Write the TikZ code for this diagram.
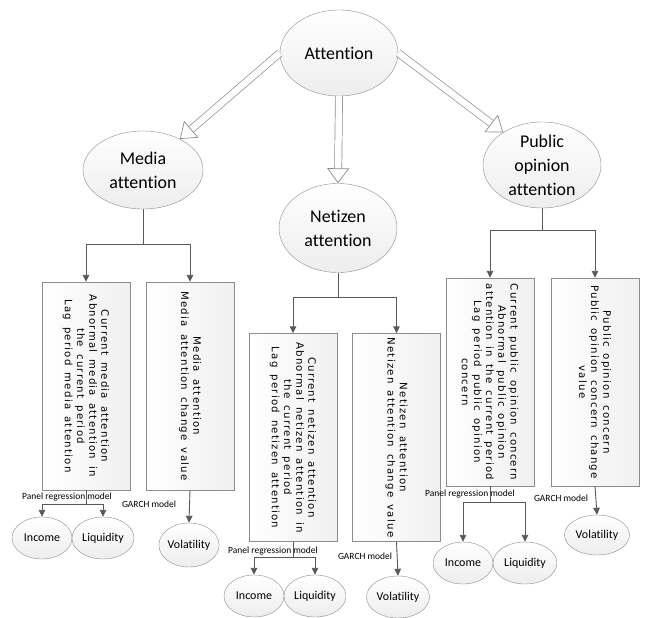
\documentclass[tikz,border=0pt]{standalone}
\usepackage{fontspec}
\setmainfont{Carlito}[Ligatures=NoCommon]
\newfontfamily\boxfont[LetterSpace=12, WordSpace=1.6]{DejaVu Sans}
\usetikzlibrary{arrows.meta,shapes.geometric}
\definecolor{linegray}{HTML}{595959}
\definecolor{edgegray}{HTML}{8C8C8C}

\begin{document}
\begin{tikzpicture}[
    x=1bp, y=-1bp,
    bigell/.style={ellipse, draw=edgegray, top color=white, bottom color=gray!14, minimum width=118bp, minimum height=86bp, inner sep=-8bp, align=center, font=\fontsize{18}{24}\selectfont},
    smallell/.style={ellipse, draw=edgegray, top color=white, bottom color=gray!14, minimum width=60bp, minimum height=42bp, inner sep=0pt, font=\fontsize{12}{14}\selectfont},
    varbox/.style={draw=edgegray, rotate=-90, left color=white, right color=gray!12, minimum width=208bp, minimum height=88bp, inner sep=2bp, align=center, font=\boxfont\fontsize{10.2}{12.2}\selectfont},
    lbl/.style={font=\fontsize{9.5}{11}\selectfont, inner sep=0pt},
    arr/.style={draw=linegray, line width=0.9bp, -{Triangle[length=7bp,width=6.5bp]}},
    ln/.style={draw=linegray, line width=0.9bp},
    hollow/.style={draw=edgegray, double=white, double distance=6.5bp, line width=0.7bp, shorten >=14bp},
    hollowtip/.style={draw=white, line width=0.1bp, shorten <=6bp, -{Triangle[open, fill=white, color=edgegray, length=15bp, width=22bp, line width=0.7bp]}}
]
    \useasboundingbox (0,0) rectangle (646,618);

    % Attention levels
    \node[bigell] (att) at (339,53) {Attention};
    \node[bigell, minimum width=120bp, minimum height=78bp] (media) at (143,170) {Media\\attention};
    \node[bigell, minimum height=89bp] (net) at (338,228) {Netizen\\attention};
    \node[bigell] (pub) at (542,165) {Public\\opinion\\attention};

    \draw[hollow] (att.west) -- (media.40);
    \draw[hollowtip] (att.west) -- (media.40);
    \draw[hollow] (att.south) -- (net.north);
    \draw[hollowtip] (att.south) -- (net.north);
    \draw[hollow] (att.east) -- (pub.140);
    \draw[hollowtip] (att.east) -- (pub.140);

    % Variable boxes
    \node[varbox] (box1) at (86,386) {Current media attention\\Abnormal media attention in\\the current period\\Lag period media attention};
    \node[varbox] (box2) at (190,386) {Media attention\\Media attention change value};
    \node[varbox] (box3) at (293,437.5) {Current netizen attention\\Abnormal netizen attention in\\the current period\\Lag period netizen attention};
    \node[varbox] (box4) at (396.5,437.5) {Netizen attention\\Netizen attention change value};
    \node[varbox] (box5) at (490,382) {Current public opinion concern\\Abnormal public opinion\\attention in the current period\\Lag period public opinion\\concern};
    \node[varbox] (box6) at (595,382) {Public opinion concern\\Public opinion concern change\\value};

    \coordinate (f1) at (143,244);
    \coordinate (f2) at (338,297);
    \coordinate (f3) at (542,230);
    \draw[ln] (media.south) -- (f1);
    \draw[arr] (f1) -| (box1.west);
    \draw[arr] (f1) -| (box2.west);
    \draw[ln] (net.south) -- (f2);
    \draw[arr] (f2) -| (box3.west);
    \draw[arr] (f2) -| (box4.west);
    \draw[ln] (pub.south) -- (f3);
    \draw[arr] (f3) -| (box5.west);
    \draw[arr] (f3) -| (box6.west);

    % Models and outcomes
    \node[smallell] (inc1) at (42,538) {Income};
    \node[smallell, minimum width=62bp] (liq1) at (103,538) {Liquidity};
    \node[smallell, minimum width=58bp, minimum height=44bp] (vol1) at (189,545) {Volatility};
    \node[smallell] (inc2) at (254,596) {Income};
    \node[smallell, minimum width=62bp] (liq2) at (315,596) {Liquidity};
    \node[smallell, minimum width=63bp] (vol2) at (398,597) {Volatility};
    \node[smallell] (inc3) at (463,563) {Income};
    \node[smallell, minimum width=64bp] (liq3) at (525,563) {Liquidity};
    \node[smallell, minimum width=65bp, minimum height=40bp] (vol3) at (597,535) {Volatility};

    \node[lbl] (pan1) at (67,497) {Panel regression model};
    \node[lbl] (pan2) at (273,551) {Panel regression model};
    \node[lbl] (pan3) at (470,494) {Panel regression model};
    \node[lbl] (gar1) at (149,504) {GARCH model};
    \node[lbl] (gar2) at (365,556) {GARCH model};
    \node[lbl] (gar3) at (561,498) {GARCH model};

    \coordinate (g1) at (86,504);
    \coordinate (g2) at (293,557);
    \coordinate (g3) at (490,502);
    \draw[ln] (box1.east) -- (g1);
    \draw[arr] (g1) -| (inc1.north);
    \draw[arr] (g1) -| (liq1.north);
    \draw[ln] (box3.east) -- (g2);
    \draw[arr] (g2) -| (inc2.north);
    \draw[arr] (g2) -| (liq2.north);
    \draw[ln] (box5.east) -- (g3);
    \draw[arr] (g3) -| (inc3.north);
    \draw[arr] (g3) -| (liq3.north);
    \draw[arr] (box2.east) -- (vol1.north);
    \draw[arr] (box4.east) -- (vol2.north);
    \draw[arr] (box6.east) -- (vol3.north);
\end{tikzpicture}
\end{document}
